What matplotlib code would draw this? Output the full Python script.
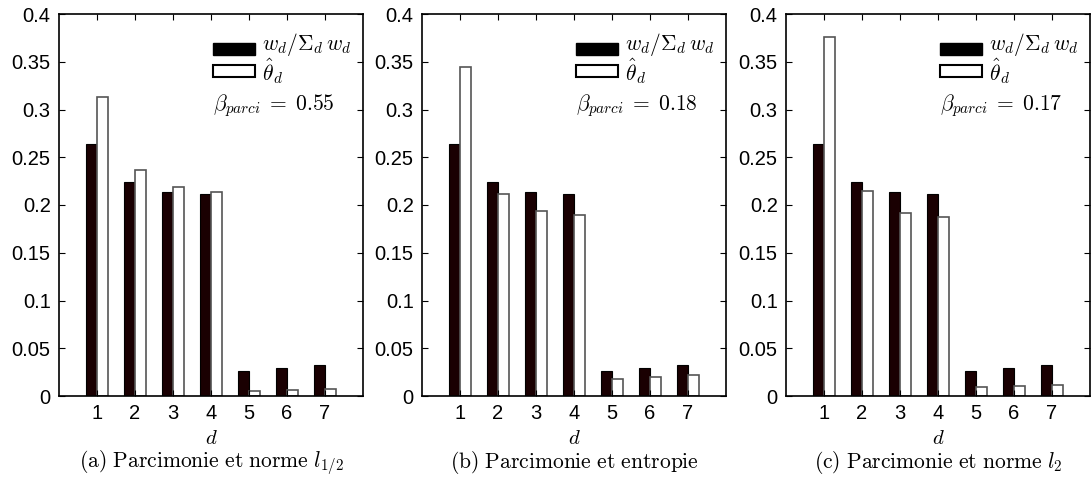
import matplotlib
matplotlib.use("Agg")
import matplotlib.pyplot as plt
import numpy as np
from matplotlib.patches import Rectangle

# ---- data ----
categories = [1, 2, 3, 4, 5, 6, 7]
w_norm = [0.264, 0.224, 0.214, 0.211, 0.026, 0.029, 0.032]
theta_a = [0.313, 0.237, 0.219, 0.214, 0.005, 0.006, 0.007]
theta_b = [0.345, 0.211, 0.194, 0.190, 0.018, 0.020, 0.022]
theta_c = [0.376, 0.215, 0.192, 0.187, 0.009, 0.010, 0.011]
betas = ["0.55", "0.18", "0.17"]
captions = [r"$\mathrm{(a)\ Parcimonie\ et\ norme\ }l_{1/2}$",
            r"$\mathrm{(b)\ Parcimonie\ et\ entropie}$",
            r"$\mathrm{(c)\ Parcimonie\ et\ norme\ }l_{2}$"]
yticks = [0, 0.05, 0.1, 0.15, 0.2, 0.25, 0.3, 0.35, 0.4]
ytick_labels = ["0", "0.05", "0.1", "0.15", "0.2", "0.25", "0.3", "0.35", "0.4"]
legend_labels = [r"$w_d/\Sigma_d\,w_d$", r"$\hat{\theta}_d$"]

plt.rcParams['mathtext.fontset'] = 'cm'
plt.rcParams['font.family'] = ['Liberation Sans', 'DejaVu Sans']

W, H = 1092, 484
fig = plt.figure(figsize=(W / 100, H / 100), dpi=100)

lefts = [59, 422, 786]
ax_w = 304
top, bottom = 14, 396

dark = '#1a0002'
bw = 0.29
thetas = [theta_a, theta_b, theta_c]
x = np.array(categories, dtype=float)

for i in range(3):
    ax = fig.add_axes([lefts[i] / W, (H - bottom) / H, ax_w / W, (bottom - top) / H])
    ax.bar(x - bw / 2, w_norm, width=bw, color=dark, edgecolor='black', linewidth=0.8)
    ax.bar(x + bw / 2, thetas[i], width=bw, color='white', edgecolor='#555555', linewidth=1.2)
    ax.set_xlim(0, 8)
    ax.set_ylim(0, 0.4)
    ax.set_xticks(categories)
    ax.set_xticklabels([str(c) for c in categories])
    ax.set_yticks(yticks)
    ax.set_yticklabels(ytick_labels)
    ax.tick_params(direction='in', top=True, right=True, length=4, width=0.8,
                   labelsize=14.5, pad=6)
    for s in ax.spines.values():
        s.set_linewidth(1.2)
    ax.set_xlabel(r"$d$", fontsize=15, labelpad=4)

    # legend (drawn as patches + labels)
    ax.add_patch(Rectangle((0.507, 0.893), 0.138, 0.031, transform=ax.transAxes,
                           facecolor='black', edgecolor='black', linewidth=1.0,
                           clip_on=False))
    ax.add_patch(Rectangle((0.507, 0.835), 0.138, 0.031, transform=ax.transAxes,
                           facecolor='white', edgecolor='black', linewidth=1.5,
                           clip_on=False))
    ax.text(0.668, 0.906, legend_labels[0], transform=ax.transAxes,
            fontsize=15.5, ha='left', va='baseline')
    ax.text(0.668, 0.826, legend_labels[1], transform=ax.transAxes,
            fontsize=15.5, ha='left', va='baseline')
    ax.text(0.505, 0.749, r"$\beta_{parci}\;=\;" + betas[i] + "$", transform=ax.transAxes,
            fontsize=15.5, ha='left', va='baseline')
    fig.text((lefts[i] + ax_w / 2) / W, (H - 463) / H, captions[i],
             fontsize=15.5, ha='center', va='center')

fig.savefig("out.png", dpi=100)
